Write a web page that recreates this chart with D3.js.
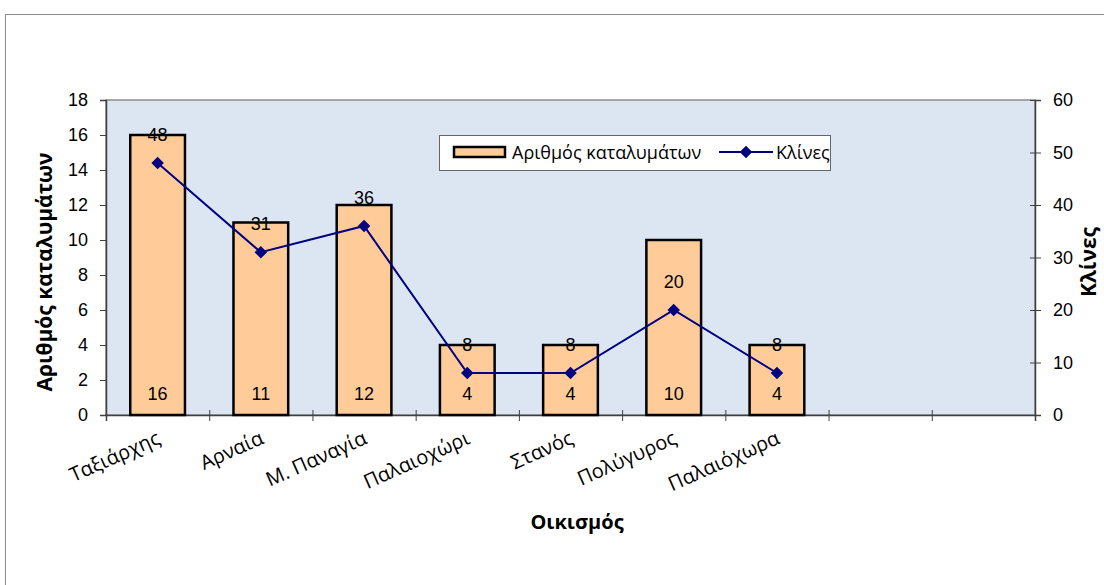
<!DOCTYPE html>
<html><head><meta charset="utf-8">
<script src="https://cdn.jsdelivr.net/npm/d3@7"></script>
<style>body{margin:0;background:#fff}</style>
</head><body>
<svg id="c" width="1104" height="585"></svg>
<script>
const categories = ["Ταξιάρχης","Αρναία","Μ. Παναγία","Παλαιοχώρι","Στανός","Πολύγυρος","Παλαιόχωρα","",""];
const rooms = [16, 11, 12, 4, 4, 10, 4];
const beds = [48, 31, 36, 8, 8, 20, 8];
const leftTicks = [0,2,4,6,8,10,12,14,16,18];
const rightTicks = [0,10,20,30,40,50,60];

const svg = d3.select("#c");
const L = 106, R = 1035, T = 100, B = 415;
const num = "'Liberation Sans', Arial, sans-serif";
const grk = "'Open Sans', 'Noto Sans', sans-serif";

svg.append("rect").attr("x",5.5).attr("y",14.5).attr("width",1110).attr("height",600)
  .attr("fill","#fff").attr("stroke","#8c8c8c").attr("stroke-width",1);

const x = d3.scaleBand().domain(categories.map((d,i)=>i)).range([L,R]).padding(0);
const yL = d3.scaleLinear().domain([0,18]).range([B,T]);
const yR = d3.scaleLinear().domain([0,60]).range([B,T]);

svg.append("rect").attr("x",L).attr("y",T).attr("width",R-L).attr("height",B-T)
  .attr("fill","#dce6f2").attr("stroke","#8c8c8c").attr("stroke-width",1.5);

const gL = svg.append("g").attr("transform",`translate(${L},0)`)
  .call(d3.axisLeft(yL).tickValues(leftTicks).tickSize(6).tickPadding(12).tickFormat(d3.format("d")));
const gR = svg.append("g").attr("transform",`translate(${R},0)`)
  .call(d3.axisRight(yR).tickValues(rightTicks).tickSize(6).tickPadding(12).tickFormat(d3.format("d")));
gR.selectAll(".tick line").attr("x1",-5);
const xb = d3.scaleLinear().domain([0,categories.length]).range([L,R]);
const gB = svg.append("g").attr("transform",`translate(0,${B})`)
  .call(d3.axisBottom(xb).tickValues(d3.range(categories.length+1)).tickSize(6).tickFormat(""));
gB.selectAll(".tick line").attr("y1",-5);
[gL,gR,gB].forEach(g=>{
  g.select(".domain").attr("stroke","#404040").attr("stroke-width",1.5);
  g.selectAll(".tick line").attr("stroke","#404040");
  g.selectAll(".tick text").attr("font-family",num).attr("font-size",18).attr("fill","#000");
});

const bw = x.bandwidth()*0.53;
svg.append("g").selectAll("rect").data(rooms).join("rect")
  .attr("x",(d,i)=>x(i)+x.bandwidth()/2-bw/2).attr("width",bw)
  .attr("y",d=>yL(d)).attr("height",d=>B-yL(d))
  .attr("fill","#ffcc99").attr("stroke","#000").attr("stroke-width",2.5);

const cx = i => x(i)+x.bandwidth()/2;
svg.append("path").datum(beds)
  .attr("d",d3.line().x((d,i)=>cx(i)).y(d=>yR(d)))
  .attr("fill","none").attr("stroke","#000080").attr("stroke-width",2);
svg.append("g").selectAll("path").data(beds).join("path")
  .attr("transform",(d,i)=>`translate(${cx(i)},${yR(d)})`)
  .attr("d",d3.symbol(d3.symbolDiamond2,100)).attr("fill","#000080");

svg.append("g").selectAll("text").data(rooms).join("text")
  .attr("x",(d,i)=>cx(i)).attr("y",B-15).attr("text-anchor","middle")
  .attr("font-family",num).attr("font-size",18).text(d=>d);
svg.append("g").selectAll("text").data(beds).join("text")
  .attr("x",(d,i)=>cx(i)).attr("y",d=>yR(d)-22).attr("text-anchor","middle")
  .attr("font-family",num).attr("font-size",18).text(d=>d);

svg.append("g").selectAll("text").data(categories).join("text")
  .attr("transform",(d,i)=>`translate(${cx(i)+4},${B+28}) rotate(-24)`)
  .attr("text-anchor","end").attr("font-family",grk).attr("font-size",20).text(d=>d);

svg.append("text").attr("x",577).attr("y",529).attr("text-anchor","middle")
  .attr("font-family",grk).attr("font-weight","bold").attr("font-size",20).text("Οικισμός");
svg.append("text").attr("transform",`translate(52,272) rotate(-90)`).attr("text-anchor","middle")
  .attr("font-family",grk).attr("font-weight","bold").attr("font-size",21).text("Αριθμός καταλυμάτων");
svg.append("text").attr("transform",`translate(1096,262) rotate(-90)`).attr("text-anchor","middle")
  .attr("font-family",grk).attr("font-weight","bold").attr("font-size",21).text("Κλίνες");

const lg = svg.append("g");
lg.append("rect").attr("x",439.5).attr("y",135.5).attr("width",391).attr("height",35)
  .attr("fill","#fff").attr("stroke","#666");
lg.append("rect").attr("x",454).attr("y",147).attr("width",51).attr("height",10)
  .attr("fill","#ffcc99").attr("stroke","#000").attr("stroke-width",2.5);
lg.append("text").attr("x",512).attr("y",159).attr("font-family",grk).attr("font-size",18).text("Αριθμός καταλυμάτων");
lg.append("line").attr("x1",719).attr("x2",773).attr("y1",152).attr("y2",152).attr("stroke","#000080").attr("stroke-width",2);
lg.append("path").attr("transform","translate(746,152)").attr("d",d3.symbol(d3.symbolDiamond2,100)).attr("fill","#000080");
lg.append("text").attr("x",776).attr("y",159).attr("font-family",grk).attr("font-size",18).text("Κλίνες");
</script>
</body></html>
